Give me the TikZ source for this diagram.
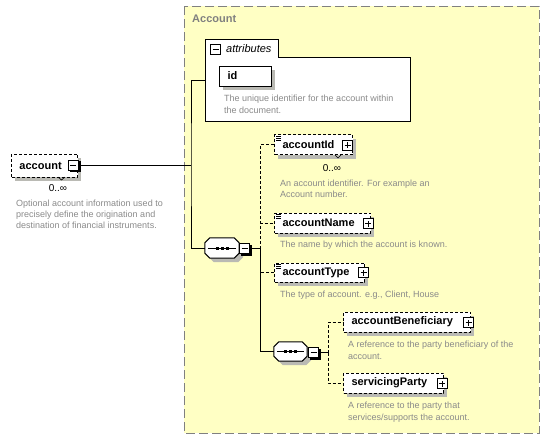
\documentclass[tikz,border=0pt]{standalone}
\usepackage{fontspec}
\setmainfont{Liberation Sans}
\definecolor{paleyellow}{HTML}{FFFFC4}
\definecolor{framegray}{HTML}{808080}
\definecolor{notegray}{HTML}{8A8A8A}
\definecolor{shadowtone}{RGB}{186,186,180}

\tikzset{
  elem/.style={draw,dash pattern=on 3pt off 2pt,fill=white,line width=1pt,anchor=west,
    inner xsep=8pt,inner ysep=0pt,minimum height=20pt,align=left,
    font=\fontsize{11}{13}\selectfont\bfseries},
  attbox/.style={elem,solid},
  pm/.style={draw,solid,fill=white,line width=1pt,minimum size=10pt,inner sep=0pt},
  minusbox/.style={pm,path picture={
    \draw[line width=1pt] ([xshift=2pt]path picture bounding box.west) -- ([xshift=-2pt]path picture bounding box.east);}},
  plusbox/.style={pm,path picture={
    \draw[line width=1pt] ([xshift=2pt]path picture bounding box.west) -- ([xshift=-2pt]path picture bounding box.east)
      ([yshift=2pt]path picture bounding box.south) -- ([yshift=-2pt]path picture bounding box.north);}},
  seq/.style={inner sep=0pt,minimum width=34pt,minimum height=20pt},
  note/.style={anchor=north west,inner sep=0pt,align=left,text=notegray,font=\fontsize{9}{11.3}\selectfont},
  mult/.style={inner sep=0pt,font=\fontsize{10}{12}\selectfont},
  link/.style={line width=1pt},
  optlink/.style={line width=1pt,dash pattern=on 3pt off 2pt},
}

% octagon round a named node, moved by (#2,#3)
\newcommand{\octpath}[3]{([xshift=#2+5pt,yshift=#3]#1.north west) -- ([xshift=#2-5pt,yshift=#3]#1.north east)
  -- ([xshift=#2,yshift=#3-5pt]#1.north east) -- ([xshift=#2,yshift=#3+5pt]#1.south east)
  -- ([xshift=#2-5pt,yshift=#3]#1.south east) -- ([xshift=#2+5pt,yshift=#3]#1.south west)
  -- ([xshift=#2,yshift=#3+5pt]#1.south west) -- ([xshift=#2,yshift=#3-5pt]#1.north west) -- cycle}

\newcommand{\seqshape}[1]{
  \fill[color=shadowtone] \octpath{#1}{4pt}{-4pt};
  \draw[fill=white,line width=1pt] \octpath{#1}{0pt}{0pt};
  \draw[line width=1pt] ([xshift=3pt]#1.west) -- ([xshift=-3pt]#1.east);
  \foreach \d in {-6.5,-1.5,3.5}
    \fill ([xshift=\d pt,yshift=-1.5pt]#1.center) rectangle ++(3pt,3pt);
}

\begin{document}
\begin{tikzpicture}[x=1pt,y=-1pt]
\useasboundingbox (0,0) rectangle (550,439);

% complex type Account
\draw[fill=paleyellow,draw=framegray,line width=1pt,dash pattern=on 9pt off 4pt] (184,6) rectangle (539,433);
\node[anchor=west,inner sep=0pt,text=framegray,font=\fontsize{11}{13}\selectfont\bfseries] (acctitle) at (192,19) {Account};

% shadows of the element boxes
\fill[color=shadowtone] (15,158) rectangle (81,181);
\fill[color=shadowtone] (278,138.5) rectangle (356,158.5);
\fill[color=shadowtone] (278,217) rectangle (374,237);
\fill[color=shadowtone] (278,266.5) rectangle (368,285.5);
\fill[color=shadowtone] (347,316) rectangle (474,336);
\fill[color=shadowtone] (347,377) rectangle (447,397);

% root element
\node[elem,text width=50pt,minimum height=23pt] (acct) at (11,165.5) {account};
\fill (69.5,160.5) rectangle (80.5,171.5);
\node[minusbox] (acctm) at (73,165) {};
\draw[line width=.6pt] (58,177) -- (61.5,180) -- (65,177);
\node[mult] (acctmult) at (58,188.5) {0..∞};
\node[note] (acctnote) at (16,199.5) {Optional account information used to\\precisely define the origination and\\destination of financial instruments.};

% attributes
\draw[fill=white,line width=1pt] (205,121) -- (205,39) -- (278,39) -- (278,57) -- (410,57) -- (410,121) -- cycle;
\node[minusbox] (attrm) at (215.5,49) {};
\node[anchor=west,inner sep=0pt,font=\fontsize{11}{13}\selectfont\itshape] (attrlab) at (226,48.5) {attributes};
\fill[color=shadowtone] (223,70) rectangle (275,90);
\node[attbox,text width=36pt] (id) at (219,76) {id};
\node[note] (idnote) at (224,95) {The unique identifier for the account within\\the document.};
\coordinate (attrin) at (205,80);

% first sequence
\node[seq] (seq1) at (222,248) {};
\seqshape{seq1}
\fill (241,245) rectangle (252,256);
\node[minusbox] (seq1m) at (244.5,248.5) {};
\coordinate (jroot) at (191,165);
\coordinate (jseq1) at (260,248.5);

\node[elem,text width=62pt] (accid) at (274,144.5) {accountId};
\node[plusbox] (accidp) at (347.5,145) {};
\draw[line width=.6pt] (335,155) -- (338,158) -- (341,155);
\node[mult] (accidmult) at (332,168.5) {0..∞};
\node[note] (accidnote) at (280,179.5) {An account identifier. For example an\\Account number.};

\node[elem,text width=80pt] (accname) at (274,223) {accountName};
\node[plusbox] (accnamep) at (368,223.5) {};
\node[note] (accnamenote) at (280,241) {The name by which the account is known.};

\node[elem,text width=74pt,minimum height=19pt] (acctype) at (274,272.5) {accountType};
\node[plusbox] (acctypep) at (363.5,272.5) {};
\node[note] (acctypenote) at (280,290.5) {The type of account. e.g., Client, House};

\foreach \n in {accid,accname,acctype}
  \foreach \k in {2,4,6}
    \draw[line width=.8pt] ([xshift=2pt,yshift=-\k pt]\n.north west) -- ++(5,0);

% second sequence
\node[seq,minimum width=33pt,minimum height=19pt] (seq2) at (290.5,351.5) {};
\seqshape{seq2}
\fill (310,349) rectangle (321,360);
\node[minusbox] (seq2m) at (313.5,352.5) {};
\coordinate (jseq2) at (328,352.5);

\node[elem,text width=111pt] (accben) at (343,322) {accountBeneficiary};
\node[plusbox] (accbenp) at (468.5,322.5) {};
\node[note] (accbennote) at (348,341) {A reference to the party beneficiary of the\\account.};

\node[elem,text width=84pt] (servp) at (343,383) {servicingParty};
\node[plusbox] (servpp) at (442,383.5) {};
\node[note] (servpnote) at (348,402) {A reference to the party that\\services/supports the account.};

% connectors
\draw[link] (acctm.east) -- (jroot);
\draw[link] (attrin) -| (jroot) |- (seq1.west);
\draw[link] (seq1m.east) -- (jseq1);
\draw[optlink] (jseq1) |- (accid.west);
\draw[optlink] (jseq1) |- (accname.west);
\draw[optlink] (jseq1) |- (acctype.west);
\draw[link] (jseq1) |- (seq2.west);
\draw[link] (seq2m.east) -- (jseq2);
\draw[optlink] (jseq2) |- (accben.west);
\draw[optlink] (jseq2) |- (servp.west);

\end{tikzpicture}
\end{document}
